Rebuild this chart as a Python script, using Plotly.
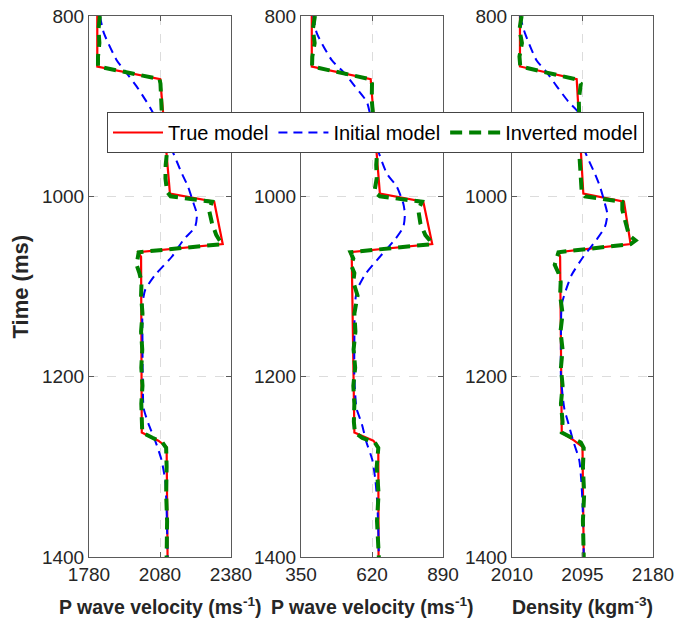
import plotly.graph_objects as go

# ---- model data (time in ms) ----
# True (blocky) model knots, shared time axis
t_true = [800, 856, 870, 997, 1006, 1053, 1062, 1067, 1262, 1271, 1278, 1400]
vp1_true = [1815, 1815, 2081, 2122, 2309, 2345, 1988, 2000, 2003, 2073, 2108, 2112]
vp2_true = [391, 391, 615, 650, 815, 849, 536, 543, 553, 625, 644, 645]
rho_true = [2019.6, 2019.6, 2088, 2096, 2145, 2153, 2066, 2068, 2070, 2085, 2095, 2096.5]

# Smooth initial model
t_init = [800, 819, 849, 862, 878, 895, 908, 934, 950, 975, 989, 1008, 1020, 1034,
          1048, 1067, 1087, 1104, 1120, 1160, 1200, 1235, 1252, 1272, 1292, 1315,
          1340, 1370, 1400]
vp1_init = [1826, 1843, 1897, 1935, 1981, 2023, 2052, 2108, 2133, 2173, 2198, 2222,
            2236, 2228, 2180, 2130, 2060, 2017, 2006, 2006, 2007, 2011, 2031, 2061,
            2086, 2102, 2107, 2110, 2112]
vp2_init = [397, 410, 467, 511, 555, 600, 612, 630, 644, 677, 714, 739, 745, 739,
            707, 650, 593, 563, 555, 553, 553, 561, 581, 598, 621, 633, 640, 644, 646]
rho_init = [2019.6, 2025.6, 2039.5, 2051.5, 2064, 2078, 2091, 2096, 2098, 2110, 2116,
            2122, 2125, 2122, 2112, 2096, 2082, 2075, 2070, 2069, 2069, 2073, 2078,
            2084, 2091, 2093.5, 2095, 2096, 2096.5]

# Inverted model
t_inv = [800, 815, 830, 845, 856, 870, 875, 893, 910, 930, 950, 965, 980, 995, 1000,
         1006, 1015, 1030, 1043, 1049, 1053, 1062, 1069, 1076, 1085, 1095, 1110, 1130,
         1150, 1170, 1190, 1210, 1230, 1250, 1262, 1268, 1273, 1279, 1300, 1330, 1360,
         1400]
vp1_inv = [1826, 1820, 1824, 1818, 1818, 2078, 2082, 2085, 2088, 2098, 2110, 2104,
           2103, 2110, 2125, 2300, 2287, 2300, 2318, 2332, 2342, 1990, 1985, 1981,
           1993, 2002, 2000, 2006, 2000, 2005, 2001, 2006, 2001, 2004, 2005, 2050,
           2090, 2106, 2108, 2106, 2110, 2108]
vp2_inv = [403, 395, 402, 393, 392, 612, 620, 619, 624, 632, 640, 636, 638, 629, 650,
           810, 796, 804, 823, 840, 848, 538, 549, 540, 553, 549, 565, 553, 557, 550,
           556, 549, 553, 551, 555, 583, 631, 644, 638, 645, 639, 646]
rho_inv = [2021.6, 2019, 2022, 2019, 2020, 2086, 2093, 2090.5, 2091, 2092, 2091, 2092,
           2093, 2094, 2098, 2143, 2143, 2147, 2151, 2159, 2153, 2066, 2063.5, 2061.5,
           2066, 2068.7, 2068, 2071, 2068.5, 2071, 2069, 2071, 2069, 2071, 2070, 2083,
           2093, 2096.5, 2095.5, 2097, 2095.5, 2096.5]

# Axis ranges / ticks for each panel
x_ticks = [[1780, 2080, 2380], [350, 620, 890], [2010, 2095, 2180]]
y_ticks = [800, 1000, 1200, 1400]
x_titles = ["P wave velocity (ms<sup>-1</sup>)",
            "P wave velocity (ms<sup>-1</sup>)",
            "Density (kgm<sup>-3</sup>)"]

panels = [(vp1_true, vp1_init, vp1_inv),
          (vp2_true, vp2_init, vp2_inv),
          (rho_true, rho_init, rho_inv)]

RED = "rgb(255,0,0)"
BLUE = "rgb(0,0,255)"
GREEN = "rgb(0,128,0)"
FONT = "Arial, Liberation Sans, Helvetica, sans-serif"
TXT = "#262626"

W, H = 678, 624
ML, MR, MT, MB = 89, 25, 16, 67
PW = W - ML - MR
PH = H - MT - MB
domains = [[0, 142 / PW], [212 / PW, 354 / PW], [423 / PW, 1.0]]

fig = go.Figure()
for i, (v_true, v_init, v_inv) in enumerate(panels):
    sfx = "" if i == 0 else str(i + 1)
    xa, ya = "x" + sfx, "y" + sfx
    show = i == 0
    fig.add_trace(go.Scatter(x=v_true, y=t_true, mode="lines", name="True model",
                             line=dict(color=RED, width=2.2), xaxis=xa, yaxis=ya,
                             showlegend=show))
    fig.add_trace(go.Scatter(x=v_init, y=t_init, mode="lines", name="Initial model",
                             line=dict(color=BLUE, width=2, dash="9px,6px",
                                       shape="spline", smoothing=0.6),
                             xaxis=xa, yaxis=ya, showlegend=show))
    fig.add_trace(go.Scatter(x=v_inv, y=t_inv, mode="lines", name="Inverted model",
                             line=dict(color=GREEN, width=4, dash="12px,7px"),
                             xaxis=xa, yaxis=ya, showlegend=show))

    axcommon = dict(showline=True, linecolor="#5a5a5a", linewidth=1, mirror="allticks",
                    ticks="inside", ticklen=5, tickcolor="#5a5a5a",
                    tickfont=dict(family=FONT, size=19, color=TXT),
                    showgrid=True, gridcolor="#dcdcdc", griddash="dash", gridwidth=1,
                    zeroline=False)
    fig.layout["xaxis" + sfx] = dict(axcommon, domain=domains[i], anchor=ya,
                                      range=[x_ticks[i][0], x_ticks[i][-1]],
                                      tickvals=x_ticks[i])
    fig.layout["yaxis" + sfx] = dict(axcommon, domain=[0, 1], anchor=xa,
                                      range=[1400, 800], tickvals=y_ticks)
    fig.add_annotation(text="<b>" + x_titles[i] + "</b>", xref=xa + " domain",
                       yref="paper", x=0.5, y=(557 - 606) / PH,
                       xanchor="center", yanchor="middle", showarrow=False,
                       font=dict(family=FONT, size=19.5, color=TXT))

fig.add_annotation(text="<b>Time (ms)</b>", xref="paper", yref="paper",
                   x=(20 - ML) / PW, y=0.5, textangle=-90, xanchor="center",
                   yanchor="middle", showarrow=False,
                   font=dict(family=FONT, size=22, color=TXT))

fig.update_layout(
    width=W, height=H, template="none",
    margin=dict(l=ML, r=MR, t=MT, b=MB),
    paper_bgcolor="white", plot_bgcolor="white",
    legend=dict(orientation="h", x=(107 - ML) / PW, y=(557 - 112) / PH,
                xanchor="left", yanchor="top", bgcolor="white",
                bordercolor="#444", borderwidth=1,
                font=dict(family=FONT, size=20, color="black"),
                itemwidth=50, tracegroupgap=0),
)

fig.write_html("out.html")
